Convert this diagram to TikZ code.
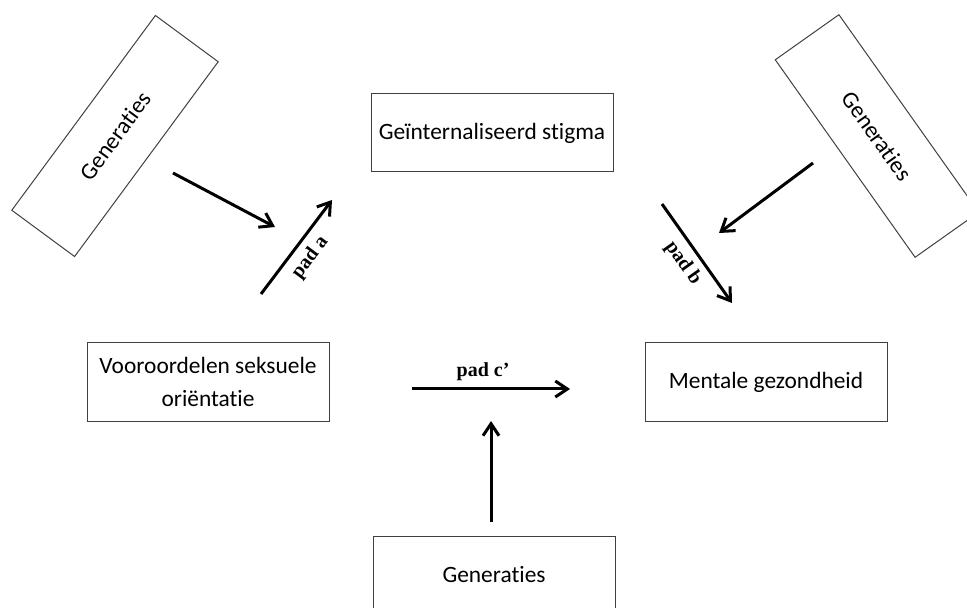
\documentclass[tikz,border=0pt]{standalone}
\usepackage{fontspec}
\setmainfont{Carlito}[Ligatures=NoCommon]
\newfontfamily\padfont{Liberation Serif}
\usetikzlibrary{arrows.meta}

\begin{document}
\begin{tikzpicture}[x=0.5pt,y=-0.5pt,
  vak/.style={draw=black!75,line width=0.5pt,minimum width=121pt,minimum height=39pt,inner sep=0pt,align=center,font=\fontsize{11.7}{16.8}\selectfont},
  pijl/.style={-{Straight Barb[length=6pt,width=8pt]},line width=1.5pt},
  pad/.style={font=\padfont\bfseries\fontsize{10}{12}\selectfont}]
\useasboundingbox (0,0) rectangle (967,608);

%vakken
\node[vak] (stigma) at (492,133) {Geïnternaliseerd stigma};
\node[vak] (vooroordelen) at (208,382) {Vooroordelen seksuele\\oriëntatie};
\node[vak] (gezondheid) at (766,382) {Mentale gezondheid};
\node[vak] (gen c) at (494,575) {Generaties};

%gedraaide vakken
\node[vak,rotate=53.6] (gen a) at (115,136) {Generaties};
\node[vak,rotate=-54.7] (gen b) at (877,136) {Generaties};

%pad a
\coordinate (a1) at (261,294);
\coordinate (a2) at (332,200);
\draw[pijl] (a1)--(a2) node[pad,midway,sloped,below]{pad a};
\coordinate (ga1) at (173,173);
\coordinate (ga2) at (275,227);
\draw[pijl] (ga1)--(ga2);

%pad b
\coordinate (b1) at (662,204);
\coordinate (b2) at (732,303);
\draw[pijl] (b1)--(b2) node[pad,midway,sloped,below]{pad b};
\coordinate (gb1) at (813,163);
\coordinate (gb2) at (719,233);
\draw[pijl] (gb1)--(gb2);

%pad c'
\coordinate (c1) at (412,389);
\coordinate (c2) at (570,389);
\draw[pijl] (c1)--(c2) node[pad,pos=0.45,above]{pad c’};
\coordinate (gc1) at (491,522);
\coordinate (gc2) at (491,421);
\draw[pijl] (gc1)--(gc2);

\end{tikzpicture}
\end{document}
